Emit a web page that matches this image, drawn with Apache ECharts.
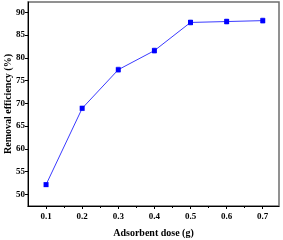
<!DOCTYPE html>
<html><head><meta charset="utf-8">
<script src="https://cdn.jsdelivr.net/npm/echarts@6/dist/echarts.min.js"></script>
<style>html,body{margin:0;padding:0;background:#fff}#c{width:283px;height:240px}</style>
</head><body><div id="c"></div>
<script>
var doses = [0.1, 0.2, 0.3, 0.4, 0.5, 0.6, 0.7];
var efficiency = [52.1, 68.9, 77.4, 81.6, 87.8, 88.0, 88.2];
var errors = [0.4, 0.5, 0.6, 0.6, 0.6, 0.6, 0.6];
var xTicks = [0.1, 0.2, 0.3, 0.4, 0.5, 0.6, 0.7];
var xMinorTicks = [0.15, 0.25, 0.35, 0.45, 0.55, 0.65];
var yTicks = [50, 55, 60, 65, 70, 75, 80, 85, 90];

var font = 'Liberation Serif';
var pts = doses.map(function (d, i) { return [d, efficiency[i]]; });
var errData = doses.map(function (d, i) { return [d, efficiency[i] - errors[i], efficiency[i] + errors[i]]; });

var chart = echarts.init(document.getElementById('c'));
chart.setOption({
  animation: false,
  grid: { left: 28, right: 4, top: 2, bottom: 34, containLabel: false, outerBoundsMode: 'none',
    show: true, borderColor: '#6e6e6e', borderWidth: 1.5, backgroundColor: 'transparent' },
  xAxis: [{
    type: 'value', min: 0.05, max: 0.745,
    name: 'Adsorbent dose (g)', nameLocation: 'middle', nameGap: 22, nameMoveOverlap: false,
    nameTextStyle: { fontFamily: font, fontWeight: 'bold', fontSize: 10, color: '#000' },
    axisLine: { show: true, lineStyle: { color: '#000', width: 1 } },
    axisTick: { show: true, inside: false, length: 3, customValues: xTicks, lineStyle: { color: '#000' } },
    axisLabel: { show: true, margin: 6, customValues: xTicks, fontFamily: font, fontWeight: 'bold', fontSize: 9, color: '#000',
      formatter: function (v) { return v.toFixed(1); } },
    splitLine: { show: false }
  }, {
    type: 'value', min: 0.05, max: 0.745, position: 'bottom', gridIndex: 0,
    axisLine: { show: false },
    axisTick: { show: true, inside: false, length: 2, customValues: xMinorTicks, lineStyle: { color: '#000' } },
    axisLabel: { show: false },
    splitLine: { show: false }
  }],
  yAxis: {
    type: 'value', min: 47.4, max: 92.3,
    name: 'Removal efficiency (%)', nameLocation: 'middle', nameGap: 15, nameMoveOverlap: false,
    nameTextStyle: { fontFamily: font, fontWeight: 'bold', fontSize: 10, color: '#000' },
    axisLine: { show: true, lineStyle: { color: '#000', width: 1 } },
    axisTick: { show: true, inside: false, length: 3, customValues: yTicks, lineStyle: { color: '#000' } },
    axisLabel: { show: true, margin: 3, customValues: yTicks, fontFamily: font, fontWeight: 'bold', fontSize: 9, color: '#000' },
    splitLine: { show: false }
  },
  series: [{
    type: 'custom',
    xAxisIndex: 0,
    data: errData,
    renderItem: function (params, api) {
      var top = api.coord([api.value(0), api.value(2)]);
      var bot = api.coord([api.value(0), api.value(1)]);
      var style = { stroke: '#a8b0ff', lineWidth: 1 };
      return { type: 'group', children: [
        { type: 'line', shape: { x1: top[0], y1: top[1], x2: bot[0], y2: bot[1] }, style: style },
        { type: 'line', shape: { x1: top[0] - 2, y1: top[1], x2: top[0] + 2, y2: top[1] }, style: style },
        { type: 'line', shape: { x1: bot[0] - 2, y1: bot[1], x2: bot[0] + 2, y2: bot[1] }, style: style }
      ] };
    },
    z: 1
  }, {
    type: 'line',
    xAxisIndex: 0,
    data: pts,
    symbol: 'rect', symbolSize: 5,
    itemStyle: { color: '#0000ff' },
    lineStyle: { color: '#3a3aff', width: 1 },
    z: 2
  }]
});
</script></body></html>
